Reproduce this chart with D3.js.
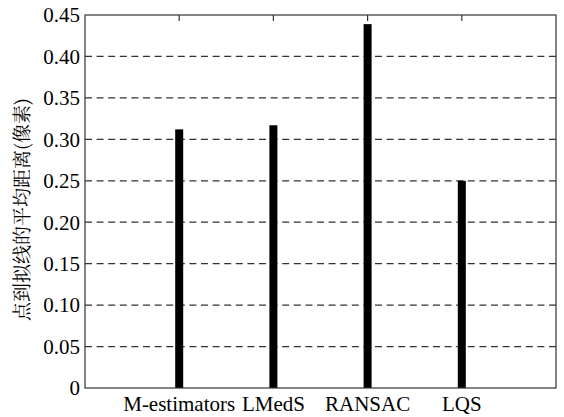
<!DOCTYPE html>
<html>
<head>
<meta charset="utf-8">
<script src="https://cdn.jsdelivr.net/npm/d3@7"></script>
</head>
<body style="margin:0">
<div id="chart"></div>
<script>
// Data
const categories = ["M-estimators", "LMedS", "RANSAC", "LQS"];
const values = [0.312, 0.317, 0.439, 0.250];
const yTicks = [0, 0.05, 0.10, 0.15, 0.20, 0.25, 0.30, 0.35, 0.40, 0.45];
const yTickLabels = ["0", "0.05", "0.10", "0.15", "0.20", "0.25", "0.30", "0.35", "0.40", "0.45"];
const yTitle = "点到拟线的平均距离(像素)";

const width = 564, height = 417;
const margin = { top: 15, right: 8, bottom: 29, left: 85 };
const innerW = width - margin.left - margin.right;
const innerH = height - margin.top - margin.bottom;

const svg = d3.select("#chart").append("svg")
  .attr("width", width)
  .attr("height", height)
  .attr("font-family", "Liberation Serif, Times New Roman, serif");

const g = svg.append("g").attr("transform", `translate(${margin.left},${margin.top})`);

const x = d3.scalePoint().domain(categories).range([0, innerW]).padding(1);
const y = d3.scaleLinear().domain([0, 0.45]).range([innerH, 0]);

// dashed grid lines
g.selectAll(".grid").data(yTicks.filter(t => t > 0 && t < 0.45)).enter()
  .append("line")
  .attr("x1", 0).attr("x2", innerW)
  .attr("y1", d => y(d)).attr("y2", d => y(d))
  .attr("stroke", "#333")
  .attr("stroke-width", 1.2)
  .attr("stroke-dasharray", "7,4.6");

// bars
g.selectAll(".bar").data(values).enter()
  .append("rect")
  .attr("x", (d, i) => x(categories[i]) - 4)
  .attr("width", 8)
  .attr("y", d => y(d))
  .attr("height", d => innerH - y(d))
  .attr("fill", "#000");

// frame
g.append("rect")
  .attr("width", innerW).attr("height", innerH)
  .attr("fill", "none").attr("stroke", "#333").attr("stroke-width", 1.2);

// top inward ticks
g.selectAll(".tt").data(categories).enter()
  .append("line")
  .attr("x1", d => x(d)).attr("x2", d => x(d))
  .attr("y1", 0).attr("y2", 6)
  .attr("stroke", "#333").attr("stroke-width", 1.2);

// y tick labels
g.selectAll(".yl").data(yTicks).enter()
  .append("text")
  .attr("x", -5)
  .attr("y", d => y(d))
  .attr("dy", "0.35em")
  .attr("text-anchor", "end")
  .style("font-family", d => '"Liberation Serif"')
  .style("font-size", "21px")
  .text((d, i) => yTickLabels[i]);

// x labels
g.selectAll(".xl").data(categories).enter()
  .append("text")
  .attr("x", d => x(d))
  .attr("y", innerH + 23)
  .attr("text-anchor", "middle")
  .style("font-family", d => '"Liberation Serif"')
  .style("font-size", "21px")
  .text(d => d);

// y title
svg.append("text")
  .attr("transform", `translate(29,${margin.top + innerH / 2 + 8}) rotate(-90)`)
  .attr("text-anchor", "middle")
  .style("font-family", '"Noto Serif CJK SC"')
  .style("font-size", "19px")
  .text(yTitle);
</script>
</body>
</html>
